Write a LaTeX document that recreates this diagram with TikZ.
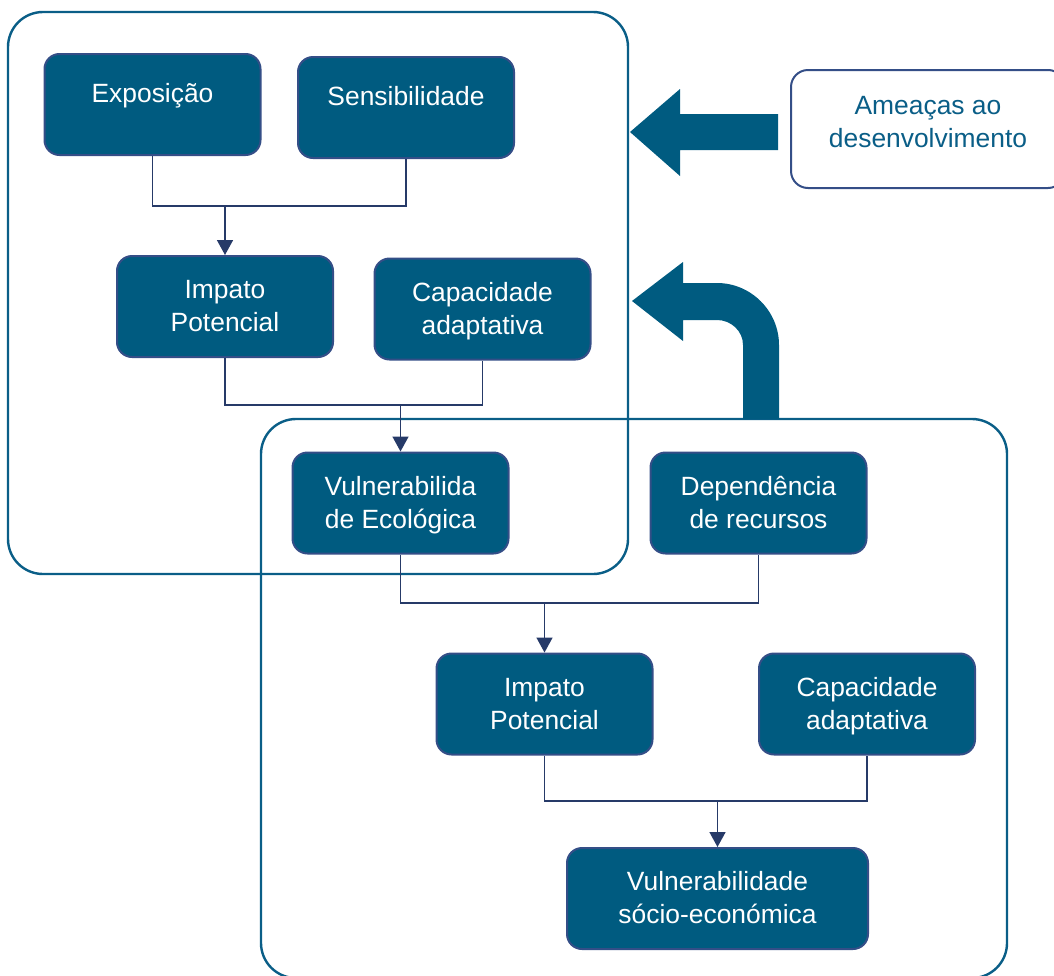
\documentclass[tikz,border=0pt]{standalone}
\usepackage{fontspec}
\setmainfont{Liberation Sans}
\usepackage{xcolor}
\usetikzlibrary{arrows.meta}
\usetikzlibrary{math}
\definecolor{boxfill}{RGB}{0,91,128}
\definecolor{boxedge}{RGB}{52,78,135}
\definecolor{framecol}{RGB}{10,94,135}
\definecolor{linkcol}{RGB}{38,58,104}

\begin{document}
\begin{tikzpicture}[x=0.5pt,y=-0.5pt,
  box/.style={draw=boxedge,line width=1pt,fill=boxfill,rounded corners=7.5pt,text=white,
    align=center,inner sep=0pt,minimum width=\bw pt,minimum height=\bh pt,
    font=\fontsize{13.2}{16.5}\selectfont,text height=30.1pt,text depth=4.95pt},
  topline/.style={text height=11.55pt,text depth=14.05pt},
  threat/.style={box,fill=white,text=framecol,rounded corners=8.5pt,minimum width=137pt,minimum height=59pt,
    text height=26pt,text depth=7.95pt},
  link/.style={draw=linkcol,line width=0.8pt},
  flow/.style={link,-{Triangle[width=8pt,length=7.5pt]}},
  frame/.style={draw=framecol,line width=1.2pt,rounded corners=17.5pt}]
\tikzmath{
\bw=108;
\bh=50.5;
}
\useasboundingbox (0,0) rectangle (1054,975);

% frames
\draw[frame] (8,12) rectangle (628,574);
\draw[frame] (261,419) rectangle (1007,978);

% big arrows
\fill[boxfill] (778,114) -- (680,114) -- (680,89) -- (630,132) -- (680,176) -- (680,150) -- (778,150) -- cycle;
\fill[boxfill] (632,301) -- (683,262) -- (683,283) -- (717,283) .. controls (751,283) and (779,311) .. (779,345)
  -- (779,419) -- (743,419) -- (743,345) .. controls (743,331) and (731,320) .. (717,320) -- (683,320) -- (683,341) -- cycle;

\node[box,topline] (expo) at (152.5,104.5) {Exposição};
\node[box,topline] (sens) at (406,107.5) {Sensibilidade};
\node[box] (imp1) at (225,306.5) {Impato\\Potencial};
\node[box] (cap1) at (482.5,309) {Capacidade\\adaptativa};
\node[box] (vul1) at (400.5,503) {Vulnerabilida\\de Ecológica};
\node[box] (dep) at (758.5,503) {Dependência\\de recursos};
\node[box] (imp2) at (544.5,704) {Impato\\Potencial};
\node[box] (cap2) at (867,704) {Capacidade\\adaptativa};
\node[box,minimum width=150.5pt] (vul2) at (717.5,898.5) {Vulnerabilidade\\sócio-económica};
\node[threat] (ameaca) at (928,129) {Ameaças ao\\desenvolvimento};

% connectors
\coordinate (j1) at (225,206);
\draw[link] (expo.south) |- (j1) -| (sens.south);
\draw[flow] (j1) -- (imp1.north);
\coordinate (j2) at (400.5,405);
\draw[link] (imp1.south) |- (j2) -| (cap1.south);
\draw[flow] (j2) -- (vul1.north);
\coordinate (j3) at (544.5,603);
\draw[link] (vul1.south) |- (j3) -| (dep.south);
\draw[flow] (j3) -- (imp2.north);
\coordinate (j4) at (717.5,801);
\draw[link] (imp2.south) |- (j4) -| (cap2.south);
\draw[flow] (j4) -- (vul2.north);
\end{tikzpicture}
\end{document}
